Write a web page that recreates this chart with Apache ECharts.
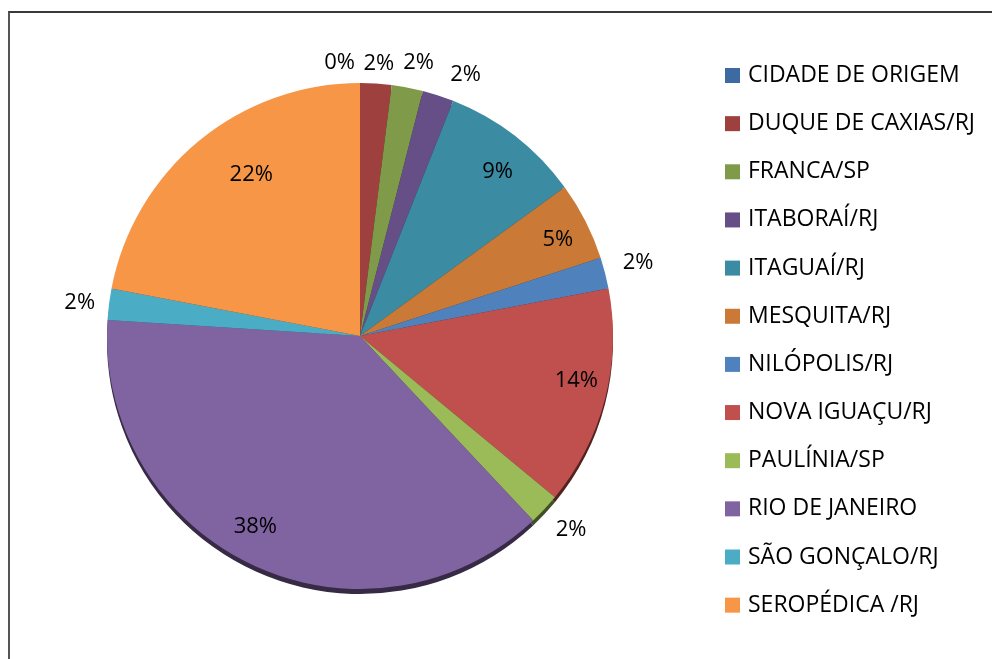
<!DOCTYPE html>
<html>
<head>
<meta charset="utf-8">
<script src="https://cdn.jsdelivr.net/npm/echarts@6/dist/echarts.min.js"></script>
<style>
    html, body { margin: 0; padding: 0; background: #fff; overflow: hidden; }
    #frame { position: absolute; left: 8px; top: 11px; width: 1100px; height: 800px;
             border-left: 2px solid #555; border-top: 2px solid #3a3a3a; }
    #chart_con { position: absolute; left: 0; top: 0; width: 992px; height: 659px; }
</style>
</head>
<body>
<div id="frame"></div>
<div id="chart_con"></div>
<script>
const cities = ['CIDADE DE ORIGEM', 'DUQUE DE CAXIAS/RJ', 'FRANCA/SP', 'ITABORAÍ/RJ', 'ITAGUAÍ/RJ',
    'MESQUITA/RJ', 'NILÓPOLIS/RJ', 'NOVA IGUAÇU/RJ', 'PAULÍNIA/SP', 'RIO DE JANEIRO',
    'SÃO GONÇALO/RJ', 'SEROPÉDICA /RJ'];
const percents = [0, 2, 2, 2, 9, 5, 2, 14, 2, 38, 2, 22];
const colors = ['#3E6AA2', '#9E413E', '#7F9A48', '#664E87', '#3B8CA2', '#CA7A36',
    '#4F81BD', '#C0504D', '#9BBB59', '#8064A2', '#4BACC6', '#F79646'];

const chart = echarts.init(document.getElementById('chart_con'));
const fontFamily = '"Open Sans", sans-serif';
const R = 253;
const center = [360, 336];

// slices with small share get their label outside, the rest inside
const isSmall = v => v < 5;

// nudges so the labels sit like Excel's "best fit"
const labelNudge = {
    0: [-1, -10],
    1: [-17, -10],
    2: [-10, -15],
    3: [5, -11],
    4: [7, 4],
    5: [8, 0],
    6: [4, -8],
    7: [10, -8],
    8: [0, 14],
    9: [-14, -2],
    10: [0, 0],
    11: [27, 3]
};

function darken(hex, k) {
    const n = parseInt(hex.slice(1), 16);
    const r = Math.round(((n >> 16) & 255) * k);
    const g = Math.round(((n >> 8) & 255) * k);
    const b = Math.round((n & 255) * k);
    return 'rgb(' + r + ',' + g + ',' + b + ')';
}

const mainData = cities.map((name, i) => ({
    name: name,
    value: percents[i],
    label: isSmall(percents[i]) ? {
        show: true,
        align: i === 0 ? 'right' : undefined,
        offset: labelNudge[i] || [0, 0]
    } : { show: false }
}));

const innerLabelData = cities.map((name, i) => ({
    name: name,
    value: percents[i],
    label: {
        show: !isSmall(percents[i]),
        offset: labelNudge[i] || [0, 0]
    }
}));

const shadowData = cities.map((name, i) => ({
    name: name,
    value: percents[i],
    itemStyle: { color: darken(colors[i], 0.42) }
}));

const option = {
    backgroundColor: 'transparent',
    color: colors,
    animation: false,
    legend: {
        orient: 'vertical',
        left: 725,
        top: 64,
        padding: 0,
        icon: 'rect',
        itemWidth: 15,
        itemHeight: 15,
        itemGap: 25.15,
        selectedMode: false,
        data: cities,
        textStyle: {
            fontFamily: fontFamily,
            fontSize: 23,
            fontWeight: 500,
            lineHeight: 23,
            color: '#000',
            padding: [0, 0, 0, 3]
        }
    },
    series: [{
        type: 'pie',
        z: 3,
        center: center,
        radius: R,
        startAngle: 90,
        avoidLabelOverlap: false,
        label: {
            position: 'outside',
            formatter: '{c}%',
            fontFamily: fontFamily,
            fontSize: 22,
            fontWeight: 500,
            color: '#000',
            distanceToLabelLine: 4
        },
        labelLine: {
            show: false,
            length: 10,
            length2: 0
        },
        data: mainData
    }, {
        // rim under the pie for the raised look
        type: 'pie',
        z: 1,
        silent: true,
        center: [center[0], center[1] + 5],
        radius: R,
        startAngle: 90,
        label: { show: false },
        labelLine: { show: false },
        data: shadowData
    }, {
        // transparent ring only used to place the inner labels
        type: 'pie',
        z: 4,
        silent: true,
        center: center,
        radius: [R * 0.66, R],
        startAngle: 90,
        itemStyle: { color: 'rgba(0,0,0,0)' },
        label: {
            position: 'inside',
            formatter: '{c}%',
            fontFamily: fontFamily,
            fontSize: 22,
            fontWeight: 500,
            color: '#000'
        },
        labelLine: { show: false },
        data: innerLabelData
    }]
};
chart.setOption(option);
window.addEventListener('resize', function () {
    chart.resize();
});
</script>
</body>
</html>
